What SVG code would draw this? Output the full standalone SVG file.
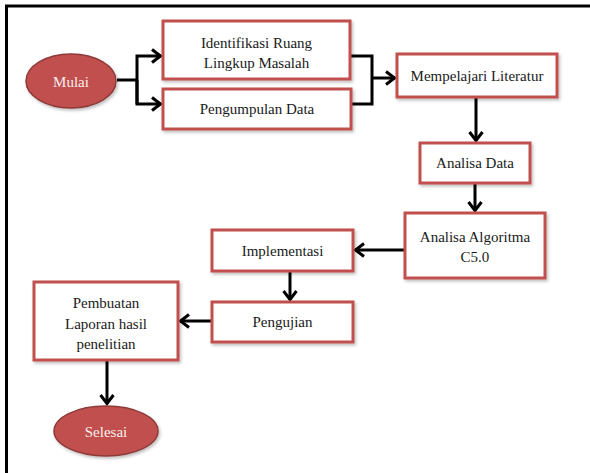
<svg xmlns="http://www.w3.org/2000/svg" width="590" height="473" viewBox="0 0 590 473">
<defs>
<style>
.box{fill:#ffffff;stroke:#c0504d;stroke-width:3;filter:url(#sh)}
.ell{fill:#c0504d;stroke:#8e3a38;stroke-width:1.5;filter:url(#sh)}
.t{font-family:"Liberation Serif","Times New Roman",serif;font-size:15px;fill:#1a1a1a;text-anchor:middle}
.tw{font-family:"Liberation Serif","Times New Roman",serif;font-size:15px;fill:#fbeeee;text-anchor:middle}
.c{fill:none;stroke:#000000;stroke-width:3;stroke-linejoin:miter}
.a{marker-end:url(#arr)}
</style>
<filter id="sh" x="-10%" y="-10%" width="130%" height="140%">
<feDropShadow dx="1.5" dy="2" stdDeviation="1.5" flood-color="#000000" flood-opacity="0.25"/>
</filter>
<marker id="arr" markerUnits="userSpaceOnUse" viewBox="0 0 14 16" refX="12" refY="8" markerWidth="14" markerHeight="16" orient="auto">
<path d="M3,1.5 L11.5,8 L3,14.5" fill="none" stroke="#000000" stroke-width="3"/>
</marker>
</defs>
<rect width="590" height="473" fill="#ffffff"/>
<path d="M6.5,473 L6.5,6 L590,6" fill="none" stroke="#000000" stroke-width="3"/>
<g id="connectors">
<path class="c" d="M117,80 L137,80"/>
<path class="c a" d="M137,104 L137,56 L161,56"/>
<path class="c a" d="M137,80 L137,104 L161,104"/>
<path class="c" d="M351,56 L372,56 L372,104 L351,104"/>
<path class="c a" d="M372,78 L395,78"/>
<path class="c a" d="M476,97 L476,141"/>
<path class="c a" d="M475,183 L475,211"/>
<path class="c a" d="M405,250 L355,250"/>
<path class="c a" d="M290,271 L290,300"/>
<path class="c a" d="M212,321 L180,321"/>
<path class="c a" d="M107,360 L107,404"/>
</g>
<g id="mulai">
<ellipse class="ell" cx="71" cy="81" rx="45" ry="27"/>
<text class="tw" x="71" y="87">Mulai</text>
</g>
<g id="identifikasi">
<rect class="box" x="163" y="21" width="187" height="58"/>
<text class="t" x="256.5" y="48">Identifikasi Ruang</text>
<text class="t" x="256.5" y="68">Lingkup Masalah</text>
</g>
<g id="pengumpulan">
<rect class="box" x="163" y="89" width="188" height="40"/>
<text class="t" x="257" y="114">Pengumpulan Data</text>
</g>
<g id="mempelajari">
<rect class="box" x="397" y="54" width="160" height="43"/>
<text class="t" x="477" y="81">Mempelajari Literatur</text>
</g>
<g id="analisa-data">
<rect class="box" x="420" y="143" width="110" height="40"/>
<text class="t" x="475" y="168">Analisa Data</text>
</g>
<g id="analisa-algoritma">
<rect class="box" x="405" y="213" width="140" height="65"/>
<text class="t" x="475" y="242">Analisa Algoritma</text>
<text class="t" x="475" y="262">C5.0</text>
</g>
<g id="implementasi">
<rect class="box" x="212" y="230" width="141" height="41"/>
<text class="t" x="282.5" y="256">Implementasi</text>
</g>
<g id="pengujian">
<rect class="box" x="212" y="302" width="141" height="40"/>
<text class="t" x="282.5" y="327">Pengujian</text>
</g>
<g id="pembuatan">
<rect class="box" x="34" y="282" width="144" height="78"/>
<text class="t" x="106" y="308">Pembuatan</text>
<text class="t" x="106" y="329">Laporan hasil</text>
<text class="t" x="106" y="349">penelitian</text>
</g>
<g id="selesai">
<ellipse class="ell" cx="106" cy="431" rx="52" ry="25"/>
<text class="tw" x="106" y="437">Selesai</text>
</g>
</svg>
